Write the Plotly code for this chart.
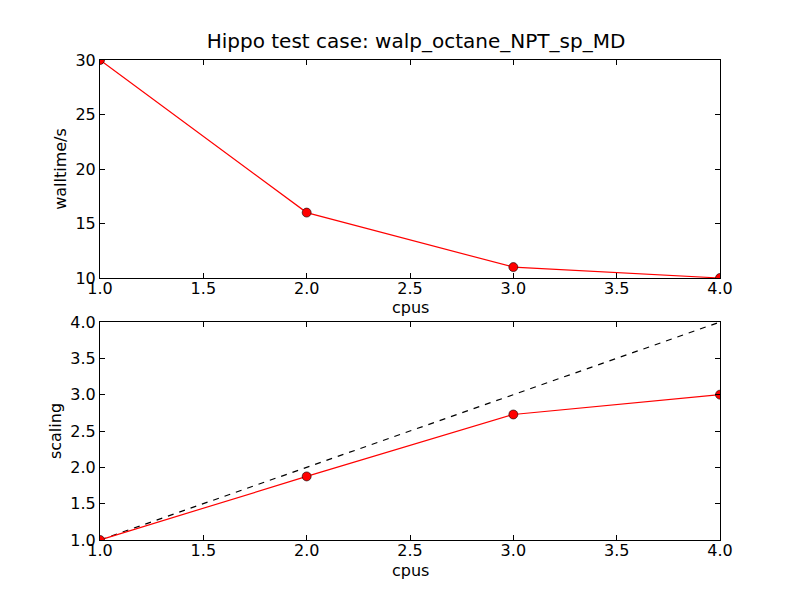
import plotly.graph_objects as go
from plotly.subplots import make_subplots

# measured data
cpus = [1, 2, 3, 4]
walltime = [30, 16, 11, 10]
scaling = [30 / w for w in walltime]
ideal = [1, 2, 3, 4]

fig = make_subplots(rows=2, cols=1, vertical_spacing=0.0917)

fig.add_trace(go.Scatter(x=cpus, y=walltime, mode='lines+markers',
                         line=dict(color='#ff0000', width=1.2),
                         marker=dict(color='#ff0000', size=9, line=dict(color='#000000', width=0.6))),
              row=1, col=1)

fig.add_trace(go.Scatter(x=cpus, y=ideal, mode='lines',
                         line=dict(color='#000000', width=1.2, dash='6px,6px')),
              row=2, col=1)
fig.add_trace(go.Scatter(x=cpus, y=scaling, mode='lines+markers',
                         line=dict(color='#ff0000', width=1.2),
                         marker=dict(color='#ff0000', size=9, line=dict(color='#000000', width=0.6))),
              row=2, col=1)

axis_style = dict(showline=True, linecolor='black', linewidth=1, mirror='ticks',
                  ticks='inside', ticklen=5, tickcolor='black', showgrid=False,
                  zeroline=False, tickfont=dict(size=16, color='black'))

fig.update_xaxes(range=[1, 4], dtick=0.5, tickformat='.1f', ticklabelstandoff=-4, **axis_style)
fig.update_yaxes(**axis_style)
fig.update_yaxes(range=[10, 30], dtick=5, title=dict(text='walltime/s', font=dict(size=16, color='black'), standoff=4), row=1, col=1)
fig.update_yaxes(range=[1, 4], dtick=0.5, tickformat='.1f', title=dict(text='scaling', font=dict(size=16, color='black'), standoff=4), row=2, col=1)

# x axis labels sit close to the tick labels, as in matplotlib
for xr, yr in [('x domain', 'y domain'), ('x2 domain', 'y2 domain')]:
    fig.add_annotation(text='cpus', xref=xr, yref=yr, x=0.5, y=0, yshift=-30,
                       xanchor='center', yanchor='middle', showarrow=False,
                       font=dict(size=16, color='black'))

fig.update_layout(
    width=800, height=600,
    margin=dict(l=92, r=88, t=52, b=68),
    paper_bgcolor='white', plot_bgcolor='white',
    showlegend=False,
    font=dict(family='DejaVu Sans', color='black'),
    title=dict(text='Hippo test case: walp_octane_NPT_sp_MD', x=0.51, xanchor='center',
               y=0.945, yanchor='middle', font=dict(size=20, color='black')),
)

fig.write_html("out.html")
